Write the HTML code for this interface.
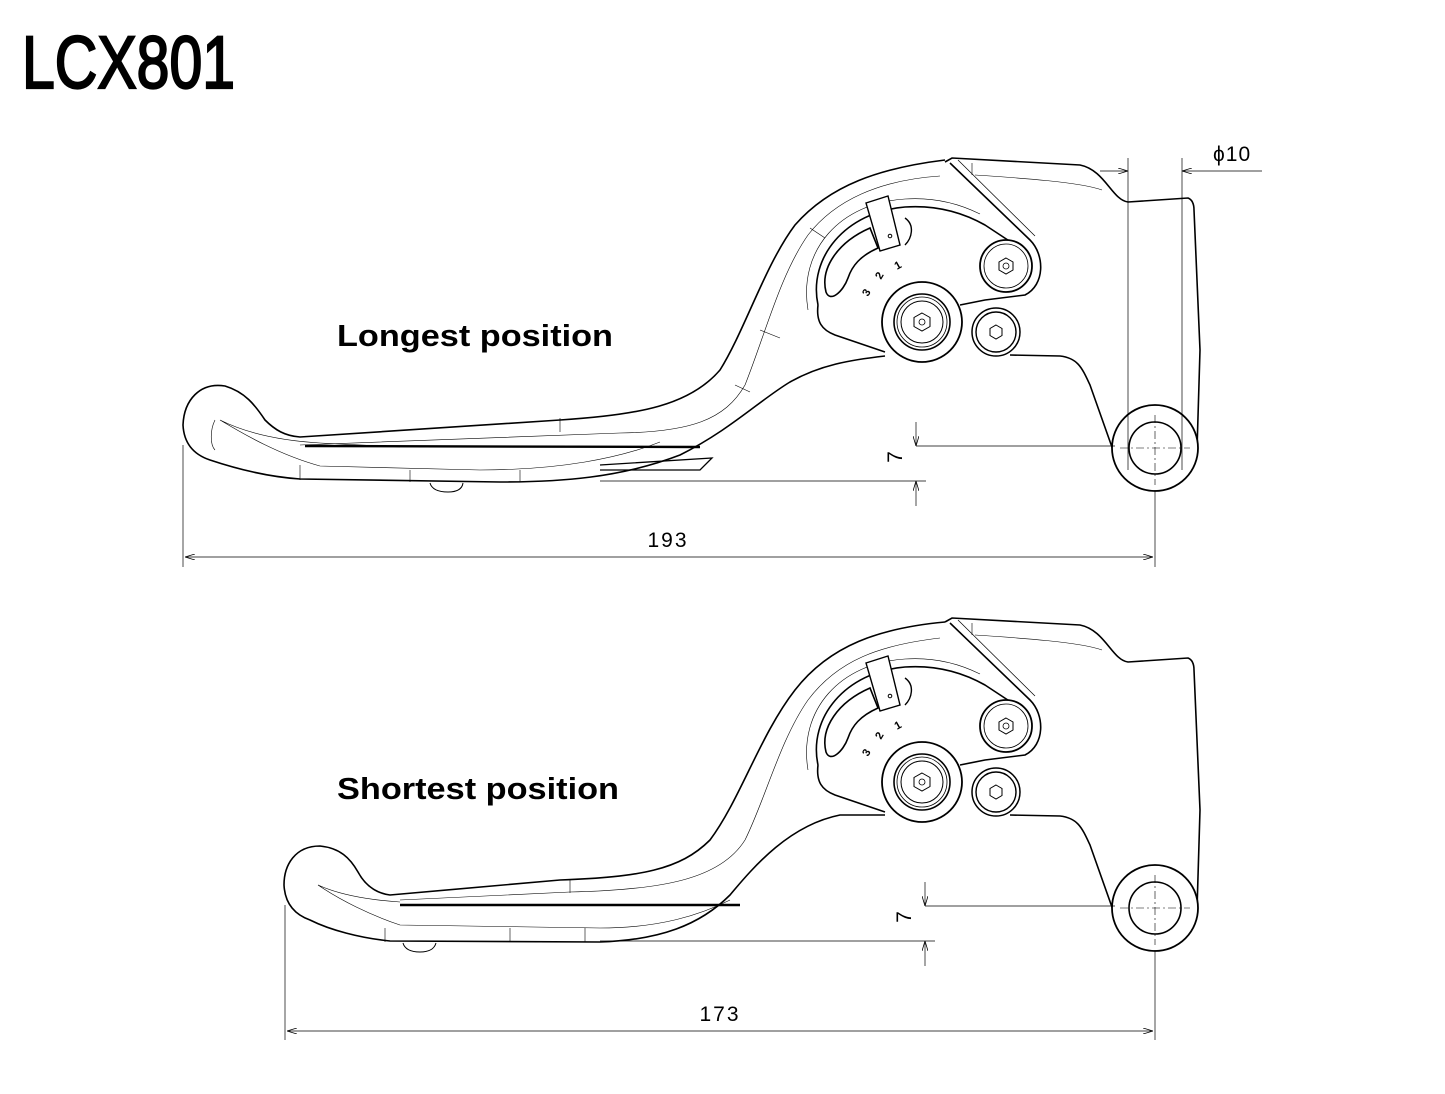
<!DOCTYPE html>
<html><head><meta charset="utf-8"><style>
html,body{margin:0;padding:0;background:#fff;}
svg{display:block;}
</style></head><body>
<svg width="1445" height="1094" viewBox="0 0 1445 1094" xmlns="http://www.w3.org/2000/svg">
<defs>
<marker id="ar" viewBox="0 0 10 6" refX="10" refY="3" markerWidth="10" markerHeight="6" orient="auto-start-reverse" markerUnits="userSpaceOnUse"><path d="M0,0 L10,3 L0,6" fill="none" stroke="#000" stroke-width="0.8"/></marker>
<g id="body">
  <path d="M945,162 L952,158 L1080,165 C1105,170 1112,200 1128,202 L1188,198 C1193,200 1194,205 1194,210 L1200,350 L1197,450" fill="none" stroke="#000" stroke-width="1.6"/>
  <path d="M950,163 L1030,240 C1045,255 1045,285 1025,295 L985,300 L960,305" fill="none" stroke="#000" stroke-width="1.6"/>
  <path d="M958,160 L1035,236" fill="none" stroke="#000" stroke-width="0.7"/>
  <path d="M972,163 L972,175 M975,175 C1020,178 1080,182 1102,190" fill="none" stroke="#000" stroke-width="0.6"/>
  <!-- window -->
  <path d="M818,305 C808,258 845,212 905,207 C935,205 962,212 985,225 L1020,248" fill="none" stroke="#000" stroke-width="1.6"/>
  <path d="M808,310 C798,250 840,203 905,199 C935,197 960,204 980,214" fill="none" stroke="#000" stroke-width="0.6"/>
  <path d="M818,305 C816,322 822,330 835,335 L885,352" fill="none" stroke="#000" stroke-width="1.6"/>
  <path d="M826,292 C820,268 838,242 870,228 L878,248 C860,256 852,266 848,278 C843,292 830,303 826,292 Z" fill="none" stroke="#000" stroke-width="1.6"/>
  <path d="M905,218 C915,225 912,238 905,245" fill="none" stroke="#000" stroke-width="1.4"/>
  <path d="M866,203 L888,196 L900,245 L880,251 Z" fill="#fff" stroke="#000" stroke-width="1.4"/>
  <circle cx="890" cy="236" r="1.8" fill="none" stroke="#000"/>
  <text x="868" y="297" font-family="Liberation Sans, sans-serif" font-weight="bold" font-size="11" transform="rotate(-60 868 297)">3</text>
  <text x="881" y="280" font-family="Liberation Sans, sans-serif" font-weight="bold" font-size="11" transform="rotate(-60 881 280)">2</text>
  <text x="897" y="270" font-family="Liberation Sans, sans-serif" font-weight="bold" font-size="11" transform="rotate(-30 897 270)">1</text>
  <circle cx="922" cy="322" r="40" fill="#fff" stroke="#000" stroke-width="1.8"/>
  <circle cx="922" cy="322" r="28" fill="none" stroke="#000" stroke-width="1.6"/>
  <circle cx="922" cy="322" r="25" fill="none" stroke="#000" stroke-width="0.8"/>
  <circle cx="922" cy="322" r="21" fill="none" stroke="#000" stroke-width="1"/>
  <polygon points="922,313 930,317.5 930,326.5 922,331 914,326.5 914,317.5" fill="none" stroke="#000"/>
  <circle cx="922" cy="322" r="3" fill="none" stroke="#000" stroke-width="0.8"/>
  <circle cx="1006" cy="266" r="26" fill="#fff" stroke="#000" stroke-width="1.8"/>
  <circle cx="1006" cy="266" r="22" fill="none" stroke="#000" stroke-width="0.8"/>
  <polygon points="1006,258 1013,262 1013,270 1006,274 999,270 999,262" fill="none" stroke="#000"/>
  <circle cx="1006" cy="266" r="3" fill="none" stroke="#000" stroke-width="0.8"/>
  <circle cx="996" cy="332" r="24" fill="#fff" stroke="#000" stroke-width="1.5"/>
  <circle cx="996" cy="332" r="20" fill="none" stroke="#000" stroke-width="1.4"/>
  <polygon points="996,325 1002,328.5 1002,335.5 996,339 990,335.5 990,328.5" fill="none" stroke="#000"/>
  <path d="M1010,355 L1060,356 C1078,358 1082,368 1090,385 L1113,450" fill="none" stroke="#000" stroke-width="1.6"/>
  <circle cx="1155" cy="448" r="43" fill="#fff" stroke="#000" stroke-width="1.8"/>
  <circle cx="1155" cy="448" r="26" fill="none" stroke="#000" stroke-width="1.6"/>
  <path d="M1120,448 H1190 M1155,415 V485" stroke="#000" stroke-width="0.6" stroke-dasharray="8,3,2,3"/>
</g>
</defs>

<text x="22" y="88" font-family="Liberation Sans Narrow, Liberation Sans, sans-serif" font-size="74" textLength="213" lengthAdjust="spacingAndGlyphs" stroke="#000" stroke-width="2.2">LCX801</text>

<!-- TOP LEVER -->
<g fill="none" stroke="#000">
  <path d="M945,160 C880,168 830,185 795,225 C765,265 745,330 720,370 C690,405 640,415 560,420 L300,437 C285,436 275,430 265,420 C255,405 245,392 225,386 C200,382 184,400 183,425 C184,445 195,455 210,460 C240,470 270,477 300,479 L500,482 C560,482 620,478 680,455 C730,430 760,400 790,382 C820,365 850,360 885,356" stroke-width="1.6"/>
  <path d="M940,176 C880,180 835,200 808,235 C780,275 765,335 745,385 C725,420 690,432 620,433 L300,445" stroke-width="0.6"/>
  <path d="M220,420 C240,430 270,440 320,443 L400,447 M215,420 C210,430 210,445 215,450 M220,420 C245,435 280,455 320,466 L480,470 C560,470 620,458 660,442" stroke-width="0.6"/>
  <path d="M305,446 L700,447" stroke-width="2.4"/>
  <path d="M600,465 L712,458 L700,470 L600,470" stroke-width="1.3"/>
  <path d="M430,483 C432,490 440,492 448,492 C456,492 462,490 463,483" stroke-width="1"/>
  <path d="M300,465 V480 M410,470 V482 M520,470 V482 M560,418 V432 M735,385 L750,392 M760,330 L780,338 M810,228 L825,238" stroke-width="0.6"/>
</g>
<use href="#body"/>

<g stroke="#000" stroke-width="0.7" fill="none">
  <line x1="183" y1="445" x2="183" y2="567"/>
  <line x1="1155" y1="490" x2="1155" y2="567"/>
  <line x1="185" y1="557" x2="1153" y2="557" marker-start="url(#ar)" marker-end="url(#ar)"/>
  <line x1="916" y1="446" x2="1115" y2="446"/>
  <line x1="600" y1="481" x2="926" y2="481"/>
  <line x1="916" y1="422" x2="916" y2="446" marker-end="url(#ar)"/>
  <line x1="916" y1="506" x2="916" y2="481" marker-end="url(#ar)"/>
  <line x1="1128" y1="158" x2="1128" y2="470"/>
  <line x1="1182" y1="158" x2="1182" y2="470"/>
  <line x1="1100" y1="171" x2="1128" y2="171" marker-end="url(#ar)"/>
  <line x1="1262" y1="171" x2="1182" y2="171" marker-end="url(#ar)"/>
</g>
<text x="668" y="547" font-family="Liberation Sans, sans-serif" font-size="21" text-anchor="middle" letter-spacing="2">193</text>
<text x="908" y="463" font-family="Liberation Sans, sans-serif" font-size="21" text-anchor="middle" transform="rotate(-90 902 463)">7</text>
<text x="1213" y="161" font-family="Liberation Sans, DejaVu Sans, sans-serif" font-size="21" letter-spacing="1">ϕ10</text>
<text x="337" y="346" font-family="Liberation Sans, sans-serif" font-weight="bold" font-size="31" textLength="276" lengthAdjust="spacingAndGlyphs">Longest position</text>

<!-- BOTTOM LEVER -->
<g transform="translate(0,460)"><use href="#body"/></g>
<g fill="none" stroke="#000">
  <path d="M945,622 C880,628 830,645 795,690 C760,735 740,800 710,840 C680,870 640,877 560,880 L390,895 C375,893 365,885 358,872 C350,858 340,848 320,846 C295,846 284,865 284,885 C285,905 296,915 310,920 C330,930 360,938 390,941 L600,942 C660,940 700,925 730,895 C755,865 790,825 840,815 L885,815" stroke-width="1.6"/>
  <path d="M940,638 C880,645 838,660 808,700 C780,740 765,800 745,840 C720,880 660,890 570,892 L400,900" stroke-width="0.6"/>
  <path d="M318,885 C340,895 370,900 400,902 M318,885 C340,900 370,915 400,925 L600,928 C660,928 700,915 730,900" stroke-width="0.6"/>
  <path d="M400,905 L740,905" stroke-width="2.4"/>
  <path d="M403,943 C405,950 412,952 420,952 C428,952 434,950 436,943" stroke-width="1"/>
  <path d="M385,928 V942 M510,928 V942 M585,928 V942 M570,880 V893" stroke-width="0.6"/>
</g>

<g stroke="#000" stroke-width="0.7" fill="none">
  <line x1="285" y1="905" x2="285" y2="1040"/>
  <line x1="1155" y1="950" x2="1155" y2="1040"/>
  <line x1="287" y1="1031" x2="1153" y2="1031" marker-start="url(#ar)" marker-end="url(#ar)"/>
  <line x1="925" y1="906" x2="1115" y2="906"/>
  <line x1="600" y1="941" x2="935" y2="941"/>
  <line x1="925" y1="882" x2="925" y2="906" marker-end="url(#ar)"/>
  <line x1="925" y1="966" x2="925" y2="941" marker-end="url(#ar)"/>
</g>
<text x="720" y="1021" font-family="Liberation Sans, sans-serif" font-size="21" text-anchor="middle" letter-spacing="2">173</text>
<text x="917" y="923" font-family="Liberation Sans, sans-serif" font-size="21" text-anchor="middle" transform="rotate(-90 911 923)">7</text>
<text x="337" y="799" font-family="Liberation Sans, sans-serif" font-weight="bold" font-size="31" textLength="282" lengthAdjust="spacingAndGlyphs">Shortest position</text>
</svg>
</body></html>
